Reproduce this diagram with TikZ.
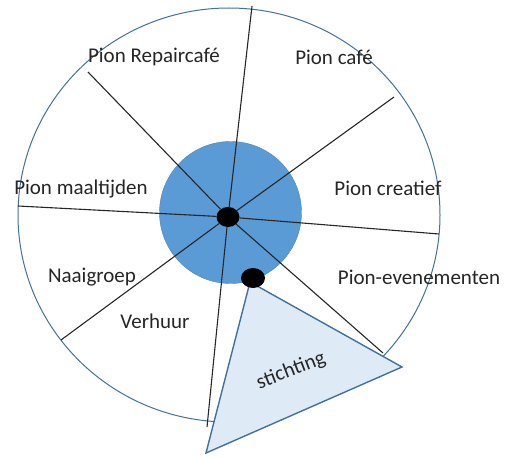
\documentclass[tikz,border=0pt]{standalone}
\usepackage{fontspec}
\setmainfont{Carlito}
\usetikzlibrary{shapes.geometric}
\definecolor{ringblue}{HTML}{41719C}
\definecolor{hubblue}{HTML}{5B9BD5}
\definecolor{paleblue}{HTML}{DEEBF7}
\definecolor{inkgrey}{HTML}{262626}
\begin{document}
\begin{tikzpicture}
    [x=1pt, y=-1pt,
     spoke/.style={draw=black!85, line width=1.1pt},
     pin/.style={ellipse, fill=black, inner sep=0pt,
       minimum width=23pt, minimum height=20pt},
     sectortext/.style={text=inkgrey, font=\fontsize{21}{25}\selectfont}]
    \useasboundingbox (0,0) rectangle (505,457);

    \node[draw=ringblue, line width=1pt, ellipse, inner sep=0pt,
      minimum width=422pt, minimum height=414pt] (wheel) at (229,215) {};
    \node[circle, fill=hubblue, draw=hubblue!85!black, inner sep=0pt,
      minimum size=142pt] (core) at (230.5,212.5) {};
    \node[pin] (hub) at (228,217) {};

    % one spoke per sector border
    \foreach \s/\x/\y in {top/252/6, upright/394/97, right/439/234,
      downright/383/353, bottom/207/427, downleft/61/340,
      left/18/206, upleft/88/72}
    {
      \coordinate (\s) at (\x,\y);
      \draw[spoke] (hub) -- (\s);
    }

    \node[sectortext] (repair) at (154,57) {Pion Repaircafé};
    \node[sectortext] (cafe) at (334,57) {Pion café};
    \node[sectortext] (creatief) at (388,188) {Pion creatief};
    \node[sectortext] (events) at (419,277) {Pion-evenementen};
    \node[sectortext] (meals) at (81,189) {Pion maaltijden};
    \node[sectortext] (sewing) at (92,277) {Naaigroep};
    \node[sectortext] (rental) at (155,321) {Verhuur};

    \draw[draw=ringblue, fill=paleblue, line width=1.4pt, line join=miter]
      (250,282) -- (402,367) -- (206,453) -- cycle;
    \node[sectortext, rotate=21] (foundation) at (291,371) {stichting};
    \node[pin, minimum width=24pt] (anchor) at (253,278) {};
\end{tikzpicture}
\end{document}
